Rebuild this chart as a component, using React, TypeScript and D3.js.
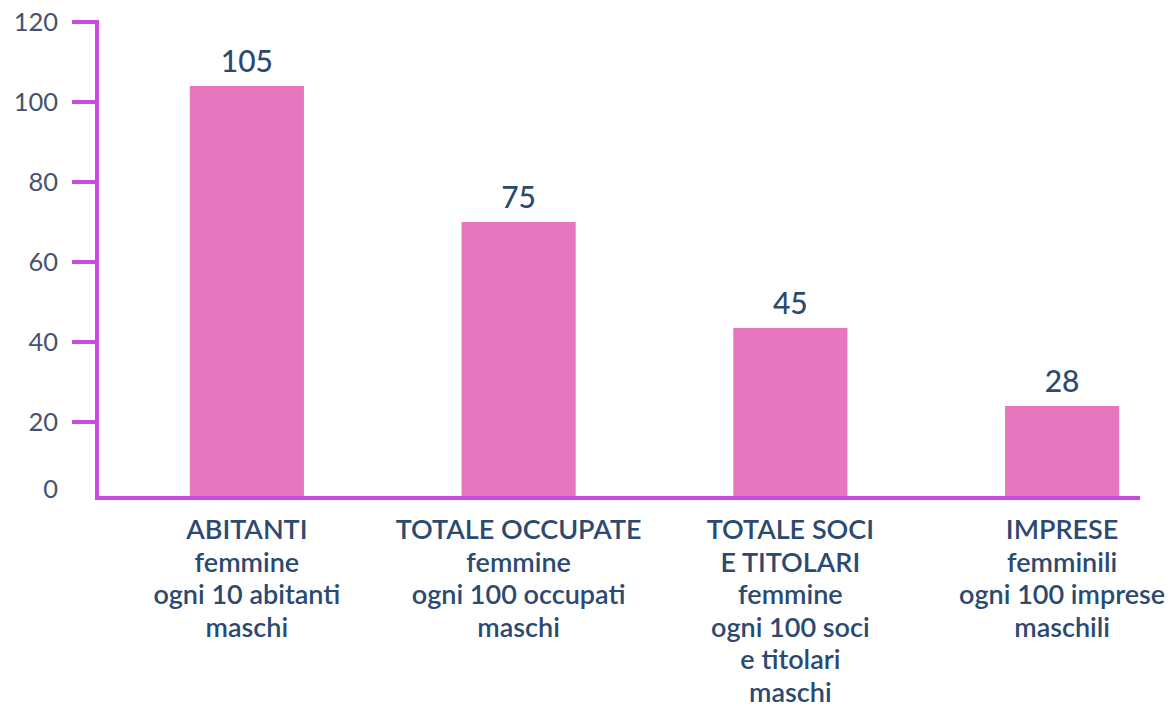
import React from "react";
import * as d3 from "d3";

const categories = ["ABITANTI", "TOTALE OCCUPATE", "TOTALE SOCI", "IMPRESE"];
const categoryLines = [
  ["ABITANTI", "femmine", "ogni 10 abitanti", "maschi"],
  ["TOTALE OCCUPATE", "femmine", "ogni 100 occupati", "maschi"],
  ["TOTALE SOCI", "E TITOLARI", "femmine", "ogni 100 soci", "e titolari", "maschi"],
  ["IMPRESE", "femminili", "ogni 100 imprese", "maschili"],
];
const barValues = [104, 70, 43.5, 24];
const valueLabels = ["105", "75", "45", "28"];
const yTicks = [0, 20, 40, 60, 80, 100, 120];

const W = 1170;
const H = 707;
const FONT = "Lato, 'Open Sans', sans-serif";
const BAR = "#e676bd";
const AXIS = "#c84ade";
const TEXT = "#2c4a70";
const TICKTEXT = "#46536e";

export default function App() {
  const x = d3
    .scaleBand<string>()
    .domain(categories)
    .range([111, 1198])
    .paddingInner(0.58)
    .paddingOuter(0.29);
  const y = d3.scaleLinear().domain([0, 120]).range([502, 22]);
  const axisX = 97;
  const baseY = y(0) - 4;
  const cx = (c: string) => (x(c) as number) + x.bandwidth() / 2;

  return (
    <div style={{ position: "fixed", left: 0, top: 0, width: W, height: H, background: "#fff" }}>
      <svg width={W} height={H} style={{ display: "block" }}>
        <rect width={W} height={H} fill="#fff" />
        {categories.map((c, i) => (
          <rect
            key={c}
            x={x(c)}
            y={y(barValues[i])}
            width={x.bandwidth()}
            height={baseY - y(barValues[i])}
            fill={BAR}
          />
        ))}
        {/* y axis */}
        <line x1={axisX} x2={axisX} y1={y(120) - 2} y2={baseY + 2} stroke={AXIS} strokeWidth={4} />
        {yTicks.map((t) =>
          t === 0 ? null : (
            <line key={t} x1={axisX - 25} x2={axisX} y1={y(t)} y2={y(t)} stroke={AXIS} strokeWidth={4} />
          )
        )}
        {yTicks.map((t) => (
          <text
            key={"l" + t}
            x={58}
            y={t === 0 ? y(t) - 13 : y(t)}
            dy="0.36em"
            textAnchor="end"
            fontFamily={FONT}
            fontSize={25.5}
            fill={TICKTEXT}
          >
            {t}
          </text>
        ))}
        {/* x axis */}
        <line x1={axisX - 2} x2={1140} y1={baseY} y2={baseY} stroke={AXIS} strokeWidth={4} />
        {/* value labels */}
        {categories.map((c, i) => (
          <text
            key={"v" + c}
            x={cx(c)}
            y={y(barValues[i]) - 14}
            textAnchor="middle"
            fontFamily={FONT}
            fontSize={30}
            fontWeight={500}
            fill={TEXT}
          >
            {valueLabels[i]}
          </text>
        ))}
        {/* category labels */}
        {categories.map((c, i) => (
          <text
            key={"c" + c}
            x={cx(c)}
            y={539}
            textAnchor="middle"
            fontFamily={FONT}
            fontSize={27}
            fontWeight={600}
            fill={TEXT}
          >
            {categoryLines[i].map((ln, j) => (
              <tspan key={j} x={cx(c)} dy={j === 0 ? 0 : 32.6}>
                {ln}
              </tspan>
            ))}
          </text>
        ))}
      </svg>
    </div>
  );
}
